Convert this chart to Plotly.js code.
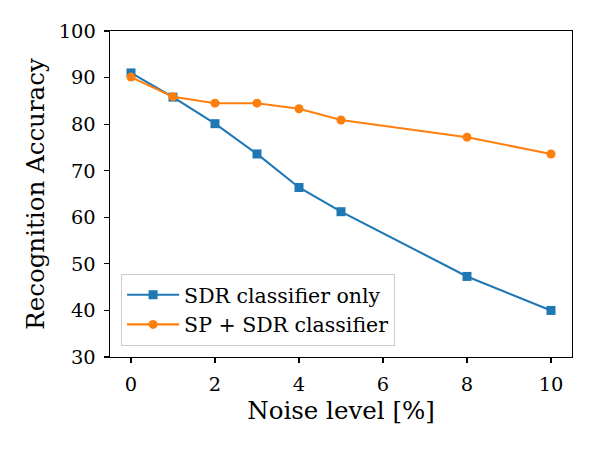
<!DOCTYPE html>
<html>
<head>
<meta charset="utf-8">
<script src="https://cdn.plot.ly/plotly-3.0.1.min.js"></script>
<style>html,body{margin:0;padding:0;background:#fff;}#chart{width:600px;height:450px;}</style>
</head>
<body>
<div id="chart"></div>
<script>
const noise = [0, 1, 2, 3, 4, 5, 8, 10];
const sdrOnly = [91.0, 85.8, 80.1, 73.6, 66.4, 61.2, 47.3, 40.0];
const spSdr = [90.1, 85.9, 84.5, 84.5, 83.3, 80.9, 77.2, 73.6];
const seriesNames = ["SDR classifier only", "SP + SDR classifier"];
const xTicks = [0, 2, 4, 6, 8, 10];
const yTicks = [30, 40, 50, 60, 70, 80, 90, 100];

const fam = "DejaVu Serif";
const traces = [
  {x: noise, y: sdrOnly, name: seriesNames[0], mode: "lines+markers",
   line: {color: "#1f77b4", width: 2.1}, marker: {symbol: "square", size: 9, color: "#1f77b4"}},
  {x: noise, y: spSdr, name: seriesNames[1], mode: "lines+markers",
   line: {color: "#ff7f0e", width: 2.1}, marker: {symbol: "circle", size: 9, color: "#ff7f0e"}}
];
const axisCommon = {showgrid: false, zeroline: false, showline: true, mirror: true,
  linecolor: "#000", linewidth: 1.4, ticks: "outside", ticklen: 5, tickwidth: 1.2,
  tickcolor: "#000", ticklabelstandoff: 4,
  tickfont: {family: fam, size: 19.4, color: "#000"}};
const layout = {
  width: 600, height: 450,
  margin: {l: 110, r: 28, t: 31, b: 93},
  paper_bgcolor: "#fff", plot_bgcolor: "#fff",
  font: {family: fam, color: "#000"},
  showlegend: true,
  legend: {x: 0.024, y: 0.034, xanchor: "left", yanchor: "bottom",
    itemwidth: 52,
    bgcolor: "rgba(255,255,255,0.8)", bordercolor: "#cccccc", borderwidth: 1,
    font: {family: fam, size: 20.5, color: "#000"}},
  xaxis: Object.assign({}, axisCommon, {range: [-0.5, 10.5], tickvals: xTicks,
    title: {text: "Noise level [%]", font: {family: fam, size: 24.5, color: "#000"}, standoff: 5}}),
  yaxis: Object.assign({}, axisCommon, {range: [30, 100], tickvals: yTicks,
    title: {text: "Recognition Accuracy", font: {family: fam, size: 24.5, color: "#000"}, standoff: 7}})
};
Plotly.newPlot("chart", traces, layout, {displayModeBar: false, staticPlot: true});
</script>
</body>
</html>
